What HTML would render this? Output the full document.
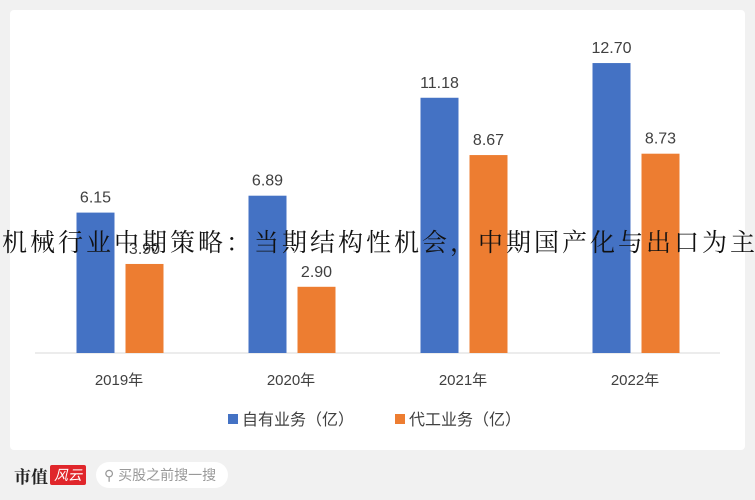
<!DOCTYPE html>
<html><head><meta charset="utf-8"><style>
body{margin:0;width:755px;height:500px;background:#f1f1f1;overflow:hidden;position:relative;font-family:"Liberation Sans","Noto Sans CJK SC",sans-serif}
#panel{position:absolute;left:10px;top:10px;width:735px;height:440px;background:#fff;border-radius:4px}
#title{position:absolute;left:2px;top:228px;font-family:"Liberation Serif","Noto Serif CJK SC",serif;font-size:25px;letter-spacing:3px;line-height:32px;white-space:nowrap;color:#111}
#footer{position:absolute;left:14px;top:462px;height:26px;display:flex;align-items:center}
</style></head><body>
<div id="panel"></div>
<svg id="chart" width="755" height="500" style="position:absolute;left:0;top:0"></svg>
<div id="title">机械行业中期策略：当期结构性机会，中期国产化与出口为主线</div>
<div id="footer">
<span style="font-family:'Noto Serif CJK SC',serif;font-weight:bold;font-size:17px;color:#222">市值</span>
<span style="background:#e0262b;color:#fff;font-size:14px;font-style:italic;padding:0 4px;margin-left:2px;border-radius:2px">风云</span>
<span style="margin-left:10px;background:#fff;border-radius:13px;padding:3px 12px 3px 8px;color:#999;font-size:14px">&#9906; 买股之前搜一搜</span>
</div>
<script>
const categories=["2019年","2020年","2021年","2022年"];
const ownValues=[6.15,6.89,11.18,12.70];
const oemValues=[3.90,2.90,8.67,8.73];
const seriesNames=["自有业务（亿）","代工业务（亿）"];
const colors=["#4472C4","#ED7D31"];
const svg=document.getElementById('chart');
const NS="http://www.w3.org/2000/svg";
const base=353, pxPer=22.83, x0=120, step=172, bw=38, gap=11;
function y(v){return base-v*pxPer;}
function cx(i){return x0+i*step;}
function mk(t,a){const e=document.createElementNS(NS,t);for(const k in a)e.setAttribute(k,a[k]);svg.appendChild(e);return e;}
const ax=mk('line',{x1:35,x2:720,y1:base,y2:base,stroke:'#d9d9d9','stroke-width':1});


[ownValues,oemValues].forEach((vals,s)=>{
  vals.forEach((v,i)=>{
    const x=cx(i)-bw-gap/2+s*(bw+gap);
    const r=mk('rect',{x:x,y:y(v),width:bw,height:base-y(v),fill:colors[s]});
    
    
    const t=mk('text',{x:x+bw/2,y:y(v)-10,'text-anchor':'middle','font-size':16,fill:'#404040'});
    t.textContent=v.toFixed(2);
    
    
  });
});
categories.forEach((c,i)=>{
  const t=mk('text',{x:cx(i)+bw/2-20,y:385,'text-anchor':'middle','font-size':15,fill:'#404040'});
  t.textContent=c;
  
  
});
const lx=[228,395];
seriesNames.forEach((n,s)=>{
  const r=mk('rect',{x:lx[s],y:414,width:10,height:10,fill:colors[s]});
  
  
  const t=mk('text',{x:lx[s]+14,y:425,'font-size':16,fill:'#404040'});
  t.textContent=n;
  
  
});
</script>
</body></html>
